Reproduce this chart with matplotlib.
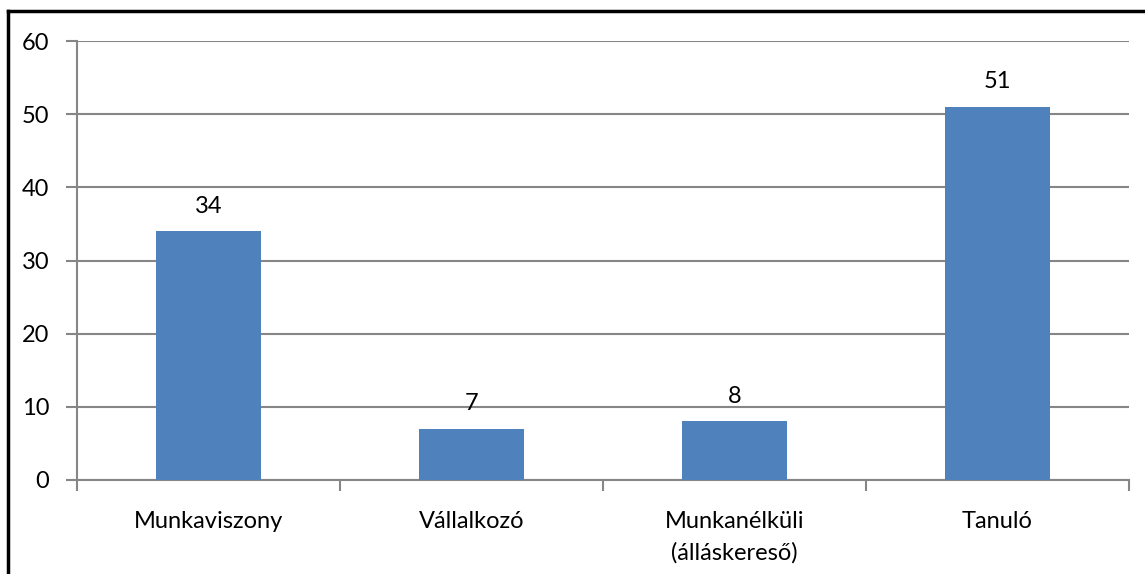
import matplotlib
matplotlib.use("Agg")
import matplotlib.pyplot as plt
from matplotlib.lines import Line2D

categories = ["Munkaviszony", "Vállalkozó", "Munkanélküli\n(álláskereső)", "Tanuló"]
values = [34, 7, 8, 51]
yticks = [0, 10, 20, 30, 40, 50, 60]

plt.rcParams['font.family'] = ['Lato', 'DejaVu Sans']
fs = 17

fig = plt.figure(figsize=(11.45, 5.74), dpi=100)
ax = fig.add_axes([77 / 1145, 1 - 480 / 574, (1129 - 77) / 1145, (480 - 41) / 574])

grid_c = "#868686"
x = range(len(categories))
ax.bar(x, values, width=0.4, color="#4F81BD", zorder=3)
for xi, v in zip(x, values):
    ax.text(xi, v + 2.0, str(v), ha="center", va="bottom", fontsize=fs)

ax.set_xlim(-0.5, len(categories) - 0.5)
ax.set_ylim(0, 60)
ax.set_yticks(yticks)
ax.set_yticklabels([str(t) for t in yticks], fontsize=fs)
ax.yaxis.grid(True, color=grid_c, linewidth=1.5, zorder=0)

ax.set_xticks([i - 0.5 for i in range(len(categories) + 1)], minor=False)
ax.set_xticklabels([])
ax.set_xticks(list(x), minor=True)
ax.set_xticklabels(categories, minor=True, fontsize=fs, linespacing=1.6, va="top")
ax.tick_params(axis="x", which="minor", length=0, pad=22)
ax.tick_params(axis="x", which="major", length=8, width=1.5, color=grid_c)
ax.tick_params(axis="y", length=8, width=1.5, color=grid_c, pad=12)

for s in ["top", "right"]:
    ax.spines[s].set_visible(False)
for s in ["left", "bottom"]:
    ax.spines[s].set_color(grid_c)
    ax.spines[s].set_linewidth(1.5)

# outer chart border (left and top only, the rest is cropped)
fig.add_artist(Line2D([8 / 1145, 8 / 1145], [0, 1 - 11 / 574], color="black", linewidth=2.5, transform=fig.transFigure))
fig.add_artist(Line2D([8 / 1145, 1], [1 - 11 / 574, 1 - 11 / 574], color="black", linewidth=2.5, transform=fig.transFigure))

fig.savefig("out.png", dpi=100)
